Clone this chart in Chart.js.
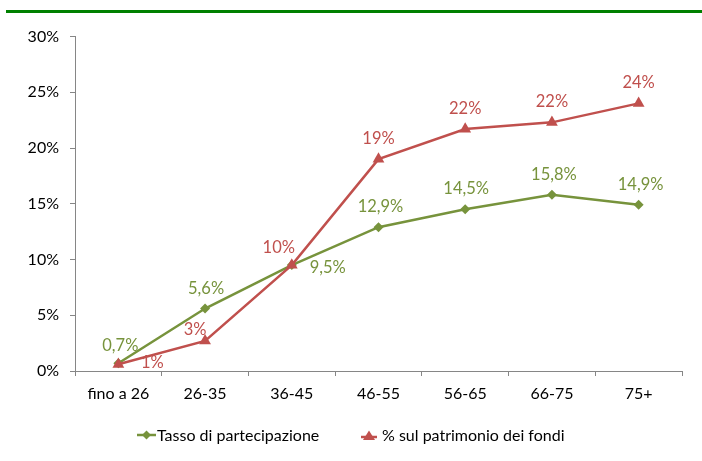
<!DOCTYPE html>
<html>
<head>
<meta charset="utf-8">
<script src="https://cdn.jsdelivr.net/npm/chart.js@4/dist/chart.umd.min.js"></script>
<style>
  html, body { margin:0; padding:0; background:#fff; }
  #wrap { position:relative; width:702px; height:461px; overflow:hidden; }
  #rule { position:absolute; left:6px; right:0; top:10px; height:3px; background:#008000; }
  canvas { position:absolute; left:0; top:0; }
  .leg { position:absolute; top:426px; height:18px; display:flex; align-items:center;
         font-family:Lato, sans-serif; font-size:16px; color:#000; white-space:nowrap; line-height:18px; }
  .leg svg { display:block; }
</style>
</head>
<body>
<div id="wrap">
  <canvas id="c" width="702" height="461"></canvas>
  <div id="rule"></div>
  <div class="leg" style="left:137px">
    <svg width="19" height="18"><line x1="0" y1="9" x2="19" y2="9" stroke="#77933C" stroke-width="2.5"/><polygon points="9.5,4.5 14,9 9.5,13.5 5,9" fill="#77933C"/></svg>
    <span style="margin-left:1px">Tasso di partecipazione</span>
  </div>
  <div class="leg" style="left:361px">
    <svg width="16" height="18"><line x1="0" y1="11" x2="16" y2="11" stroke="#C0504D" stroke-width="2.5"/><polygon points="8,4.5 14,14 2,14" fill="#C0504D"/></svg>
    <span style="margin-left:5px">% sul patrimonio dei fondi</span>
  </div>
</div>
<script>
const categories = ['fino a 26', '26-35', '36-45', '46-55', '56-65', '66-75', '75+'];
const tassoPartecipazione = [0.7, 5.6, 9.5, 12.9, 14.5, 15.8, 14.9];
const quotaPatrimonio = [0.6, 2.7, 9.5, 19.0, 21.7, 22.3, 24.0];
const yTicks = [0, 5, 10, 15, 20, 25, 30];

const seriesNames = ['Tasso di partecipazione', '% sul patrimonio dei fondi'];

// label placement (offsets of the value labels from their points)
const greenLabelOffsets = [[2,-18],[1,-20],[36,3],[2,-20],[1,-21],[2,-20],[2,-20]];
const redLabelOffsets = [[34,-2],[-10,-11],[-13,-17],[0,-20],[0,-20],[0,-21],[0,-21]];

const GREEN = '#77933C', RED = '#C0504D', AXIS = '#868686';
const FONT = { family: 'Lato, sans-serif', size: 16 };

const fmtGreen = v => v.toFixed(1).replace('.', ',') + '%';
const fmtRed = v => Math.round(v) + '%';

const valueLabels = {
  id: 'valueLabels',
  afterDatasetsDraw(chart) {
    const ctx = chart.ctx;
    ctx.save();
    ctx.font = '16.5px Lato, sans-serif';
    ctx.textAlign = 'center';
    ctx.textBaseline = 'middle';
    chart.data.datasets.forEach((ds, di) => {
      const meta = chart.getDatasetMeta(di);
      const offs = ds._offsets;
      meta.data.forEach((pt, i) => {
        const [dx, dy] = offs[i];
        ctx.fillStyle = ds.borderColor;
        ctx.fillText(ds._fmt(ds.data[i]), pt.x + dx, pt.y + dy);
      });
    });
    ctx.restore();
  }
};

new Chart(document.getElementById('c'), {
  type: 'line',
  data: {
    labels: categories,
    datasets: [
      { label: seriesNames[0], data: tassoPartecipazione, borderColor: GREEN, backgroundColor: GREEN,
        borderWidth: 2.5, pointStyle: 'rectRot', pointRadius: 5, pointBorderWidth: 0, tension: 0, order: 1,
        _offsets: greenLabelOffsets, _fmt: fmtGreen },
      { label: seriesNames[1], data: quotaPatrimonio, borderColor: RED, backgroundColor: RED,
        borderWidth: 2.5, pointStyle: 'triangle', pointRadius: 6.8, pointBorderWidth: 0, tension: 0, order: 0,
        _offsets: redLabelOffsets, _fmt: fmtRed }
    ]
  },
  options: {
    responsive: false,
    animation: false,
    devicePixelRatio: 1,
    layout: { padding: { left: 0, right: 20, top: 36.5, bottom: 50 } },
    plugins: { legend: { display: false }, tooltip: { enabled: false } },
    scales: {
      x: {
        offset: true,
        grid: { display: true, offset: true, drawOnChartArea: false, drawTicks: true, tickLength: 5, color: AXIS },
        border: { display: true, color: AXIS, width: 1 },
        ticks: { font: FONT, color: '#000', padding: 8, maxRotation: 0 },
        afterFit(s) { s.height = 40; s.paddingLeft = 0; s.paddingRight = 0; }
      },
      y: {
        min: 0, max: 30,
        afterBuildTicks(s) { s.ticks = yTicks.map(v => ({ value: v })); },
        grid: { display: true, drawOnChartArea: false, drawTicks: true, tickLength: 5, color: AXIS },
        border: { display: true, color: AXIS, width: 1 },
        ticks: { font: FONT, color: '#000', padding: 11, callback: v => v + '%' },
        afterFit(s) { s.width = 75; s.paddingTop = 0; s.paddingBottom = 0; }
      }
    }
  },
  plugins: [valueLabels]
});
</script>
</body>
</html>
